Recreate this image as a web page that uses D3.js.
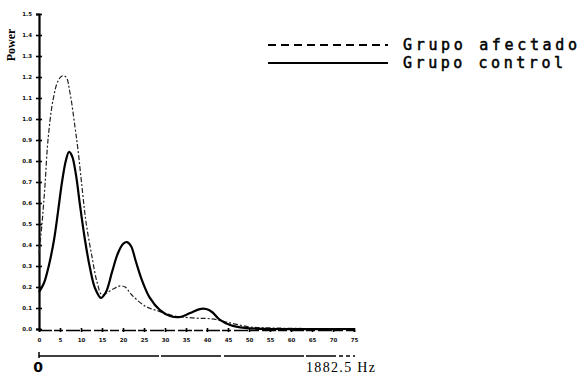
<!DOCTYPE html>
<html>
<head>
<meta charset="utf-8">
<script src="https://cdn.jsdelivr.net/npm/d3@7"></script>
<style>
  html, body { margin: 0; padding: 0; background: #fff; }
  svg { display: block; }
</style>
</head>
<body>
<svg id="chart" width="580" height="375"></svg>
<script>
// Spectrum bins (x) and power for each group
const controlX = [0, 1.19, 2.38, 3.57, 4.52, 5.48, 6.43, 7.14, 7.86, 8.81, 9.76, 10.95, 12.14, 13.33, 14.76, 15.95, 17.38, 18.81, 20.0, 20.95, 21.9, 23.1, 24.5, 26.4, 28.8, 31.2, 33.6, 36.0, 38.3, 39.8, 41.2, 43.1, 45.5, 49.0, 55.0, 75];
const controlY = [0.176, 0.219, 0.305, 0.424, 0.557, 0.700, 0.805, 0.843, 0.824, 0.733, 0.590, 0.424, 0.290, 0.195, 0.148, 0.176, 0.271, 0.362, 0.405, 0.414, 0.395, 0.319, 0.233, 0.148, 0.090, 0.062, 0.057, 0.076, 0.095, 0.095, 0.081, 0.043, 0.019, 0.005, 0.0, 0.0];

const affectedX = [0, 0.71, 1.43, 2.14, 3.33, 4.52, 5.48, 6.43, 7.38, 8.57, 9.29, 10.24, 11.19, 12.62, 13.81, 15.0, 16.43, 18.1, 19.3, 20.5, 22.1, 25.2, 28.3, 32.4, 37.1, 41.2, 45.5, 50.2, 55.0, 75];
const affectedY = [0.36, 0.500, 0.686, 0.900, 1.090, 1.181, 1.205, 1.200, 1.124, 0.962, 0.852, 0.676, 0.510, 0.343, 0.224, 0.162, 0.176, 0.195, 0.205, 0.200, 0.162, 0.110, 0.086, 0.062, 0.052, 0.048, 0.029, 0.010, 0.005, 0.0];

const yTicks = ["0.0","0.1","0.2","0.3","0.4","0.5","0.6","0.7","0.8","0.9","1.0","1.1","1.2","1.3","1.4","1.5"];
const xTicks = [0, 5, 10, 15, 20, 25, 30, 35, 40, 45, 50, 55, 60, 65, 70, 75];
const legendNames = ["Grupo afectado", "Grupo control"];
const freqMax = "1882.5";
const freqUnit = "Hz";

const svg = d3.select("#chart");

const x = d3.scaleLinear().domain([0, 75]).range([39, 354]);
const y = d3.scaleLinear().domain([0, 1.5]).range([329, 14]);

// Y axis
const yAxis = d3.axisLeft(y)
  .tickValues(yTicks.map(Number))
  .tickFormat((d, i) => yTicks[i])
  .tickSize(3)
  .tickPadding(4);
const gy = svg.append("g").attr("transform", "translate(39,0)").call(yAxis);
gy.select(".domain").attr("stroke", "#000").attr("stroke-width", 2.2);
gy.selectAll(".tick line").attr("stroke", "#000").attr("stroke-width", 1.6).attr("x2", 3).attr("x1", -3);
gy.selectAll(".tick text")
  .attr("font-family", "DejaVu Sans")
  .attr("font-weight", "bold")
  .attr("font-size", 5.5)
  .attr("fill", "#111");

// X axis
const xAxis = d3.axisBottom(x)
  .tickValues(xTicks)
  .tickSize(2)
  .tickPadding(6);
const gx = svg.append("g").attr("transform", "translate(0,330)").call(xAxis);
gx.select(".domain").attr("stroke", "#000").attr("stroke-width", 1.5).attr("stroke-dasharray", "14,2,9,3");
gx.selectAll(".tick line").attr("stroke", "#000").attr("stroke-width", 1.6).attr("y1", -2).attr("y2", 2);
gx.selectAll(".tick text")
  .attr("font-family", "DejaVu Sans")
  .attr("font-weight", "bold")
  .attr("font-size", 5.5)
  .attr("fill", "#111");

// Frequency scale bar under the axis
const fScale = d3.scaleLinear().domain([0, 1]).range([39, 355]);
svg.append("line")
  .attr("x1", fScale(0)).attr("x2", fScale(1))
  .attr("y1", 356).attr("y2", 356)
  .attr("stroke", "#000").attr("stroke-width", 1.5)
  .attr("stroke-dasharray", "120,2,60,3,80,2,30,3,4,3,4,3");
svg.append("line")
  .attr("x1", fScale(0)).attr("x2", fScale(0))
  .attr("y1", 352).attr("y2", 358)
  .attr("stroke", "#000").attr("stroke-width", 1.5);
svg.append("text")
  .attr("x", fScale(0) - 1).attr("y", 372)
  .attr("font-family", "DejaVu Sans").attr("font-weight", "bold")
  .attr("font-size", 14).attr("text-anchor", "middle")
  .text("0");
svg.append("text")
  .attr("x", 306).attr("y", 372)
  .attr("font-family", "Liberation Serif")
  .attr("font-size", 14)
  .attr("textLength", 69)
  .attr("lengthAdjust", "spacing")
  .text(freqMax + " " + freqUnit);

// Y axis title
svg.append("text")
  .attr("transform", "translate(15,45) rotate(-90)")
  .attr("font-family", "Liberation Serif").attr("font-weight", "bold")
  .attr("font-size", 12).attr("text-anchor", "middle")
  .text("Power");

// Curves
const line = d3.line()
  .x(d => x(d[0]))
  .y(d => y(d[1]))
  .curve(d3.curveCatmullRom.alpha(0.5));

const affected = affectedX.map((v, i) => [v, affectedY[i]]);
const control = controlX.map((v, i) => [v, controlY[i]]);

svg.append("path")
  .datum(affected)
  .attr("d", line)
  .attr("fill", "none")
  .attr("stroke", "#222")
  .attr("stroke-width", 1.2)
  .attr("stroke-dasharray", "5,2,2,2");

svg.append("path")
  .datum(control)
  .attr("d", line)
  .attr("fill", "none")
  .attr("stroke", "#000")
  .attr("stroke-width", 2.2);

// Legend
const legend = svg.append("g");
const legendRows = [
  { name: legendNames[0], y: 45, dash: "8,5", len: 174 },
  { name: legendNames[1], y: 63, dash: null, len: 160 }
];
legendRows.forEach(r => {
  legend.append("line")
    .attr("x1", 268).attr("x2", 388)
    .attr("y1", r.y).attr("y2", r.y)
    .attr("stroke", "#000").attr("stroke-width", 2)
    .attr("stroke-dasharray", r.dash);
  legend.append("text")
    .attr("x", 403).attr("y", r.y + 5)
    .attr("font-family", "DejaVu Sans Mono")
    .attr("font-size", 15)
    .attr("stroke", "#000")
    .attr("stroke-width", 0.5)
    .attr("textLength", r.len)
    .attr("lengthAdjust", "spacing")
    .attr("fill", "#000")
    .text(r.name);
});
</script>
</body>
</html>
